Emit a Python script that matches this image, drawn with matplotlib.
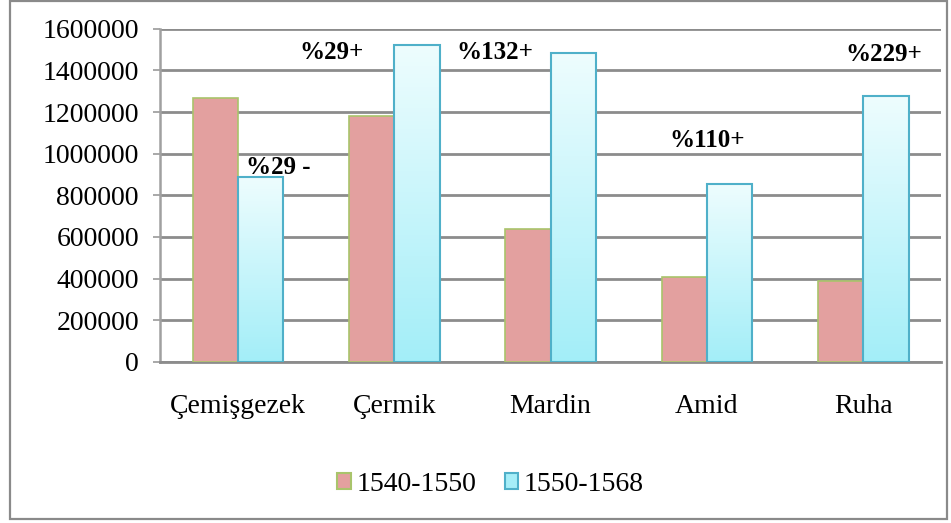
import matplotlib
matplotlib.use("Agg")
import matplotlib.pyplot as plt
import numpy as np
from matplotlib.patches import Rectangle, Patch
from matplotlib.colors import LinearSegmentedColormap

plt.rcParams['font.family'] = ['Liberation Serif', 'DejaVu Serif']

categories = ["Çemişgezek", "Çermik", "Mardin", "Amid", "Ruha"]
series_names = ["1540-1550", "1550-1568"]
values_1540 = [1268000, 1182000, 639000, 408000, 389000]
values_1550 = [889000, 1523000, 1485000, 855000, 1278000]
change_labels = ["%29 -", "%29+", "%132+", "%110+", "%229+"]
yticks = [0, 200000, 400000, 600000, 800000, 1000000, 1200000, 1400000, 1600000]

red_face = "#E3A09F"
red_edge = "#A9C46B"
blue_edge = "#4FB0C9"
blue_top = "#EEFDFE"
blue_bottom = "#A3EEF8"

fig = plt.figure(figsize=(9.51, 5.23), dpi=100)
# outer chart frame
fig.add_artist(Rectangle((0.011, 0.008), 0.985, 0.99, transform=fig.transFigure,
                         fill=False, edgecolor="#8a8a8a", linewidth=1.6))

ax = fig.add_axes([0.168, 0.308, 0.822, 0.637])
x = np.arange(len(categories))
w = 0.29

ax.bar(x - w / 2, values_1540, width=w, color=red_face, edgecolor=red_edge,
       linewidth=1.2, zorder=3)
blue_bars = ax.bar(x + w / 2, values_1550, width=w, color="none",
                   edgecolor=blue_edge, linewidth=1.5, zorder=4)

# vertical gradient fill for the second series
grad = np.linspace(0, 1, 256).reshape(-1, 1)
cmap = LinearSegmentedColormap.from_list("bl", [blue_bottom, blue_top])
for b in blue_bars:
    x0, y0 = b.get_x(), b.get_y()
    im = ax.imshow(grad, cmap=cmap, aspect="auto", origin="lower",
                   extent=[x0, x0 + b.get_width(), y0, y0 + b.get_height()],
                   zorder=3, interpolation="bilinear")
    clip = Rectangle((x0, y0), b.get_width(), b.get_height(),
                     transform=ax.transData)
    im.set_clip_path(clip)

ax.set_xlim(-0.5, len(categories) - 0.5)
ax.set_ylim(0, 1600000)
ax.set_yticks(yticks)
ax.set_yticklabels([str(v) for v in yticks], fontsize=20)
ax.set_xticks(x)
ax.set_xticklabels(categories, fontsize=20)
ax.tick_params(axis="x", length=0, pad=23)
ax.tick_params(axis="y", length=5, width=1.2, color="#9a9a9a", pad=10,
               direction="out")
ax.yaxis.grid(True, color="#8c8c8c", linewidth=2.0, zorder=1)
ax.set_axisbelow(True)
for s in ["top", "right"]:
    ax.spines[s].set_visible(False)
ax.spines["left"].set_color("#a0a0a0")
ax.spines["left"].set_linewidth(1.8)
ax.spines["bottom"].set_color("#8c8c8c")
ax.spines["bottom"].set_linewidth(2.0)

# percentage change annotations
label_pos = [(0.26, 935000), (0.60, 1485000), (1.64, 1485000),
             (3.0, 1062000), (4.13, 1475000)]
for (lx, ly), txt in zip(label_pos, change_labels):
    ax.text(lx, ly, txt, fontsize=18, fontweight="bold", ha="center",
            va="center", zorder=5)

handles = [Patch(facecolor=red_face, edgecolor=red_edge, linewidth=1.5),
           Patch(facecolor="#A6EEF8", edgecolor=blue_edge, linewidth=1.5)]
fig.legend(handles, series_names, loc="center", bbox_to_anchor=(0.516, 0.074),
           ncol=2, frameon=False, fontsize=20, handlelength=0.5,
           handleheight=0.5, handletextpad=0.2, columnspacing=1.0)

fig.savefig("out.png", dpi=100)
